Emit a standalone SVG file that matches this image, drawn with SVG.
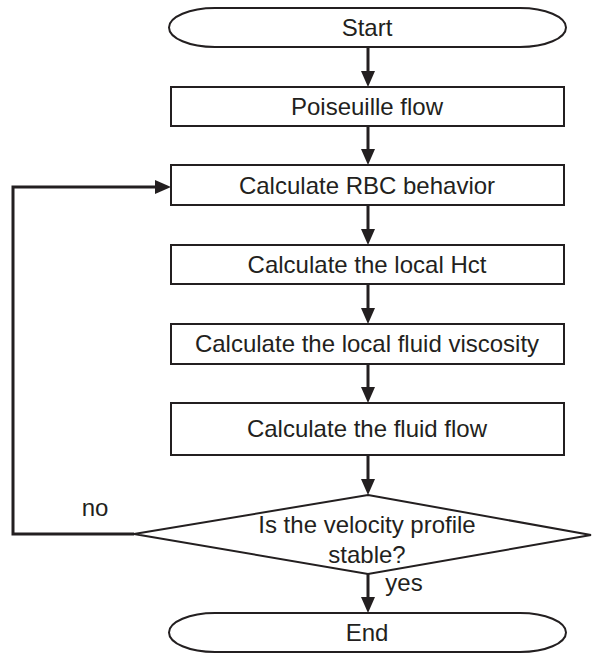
<svg xmlns="http://www.w3.org/2000/svg" width="592" height="653" viewBox="0 0 592 653">
<defs>
<style>
.shape{fill:#fff;stroke:#231f20;stroke-width:2}
.conn{fill:none;stroke:#231f20;stroke-width:3}
text{font-family:"Liberation Sans",Arial,sans-serif;font-size:24px;fill:#231f20;text-anchor:middle}
</style>
<marker id="ah" markerUnits="userSpaceOnUse" markerWidth="16" markerHeight="14" refX="8" refY="7" orient="auto">
<path d="M0,0 L16,7 L0,14 Z" fill="#231f20"/>
</marker>
</defs>
<rect width="592" height="653" fill="#fff"/>
<g id="connectors">
<line class="conn" x1="368" y1="47" x2="368" y2="79" marker-end="url(#ah)"/>
<line class="conn" x1="368" y1="126" x2="368" y2="157" marker-end="url(#ah)"/>
<line class="conn" x1="368" y1="205" x2="368" y2="237" marker-end="url(#ah)"/>
<line class="conn" x1="368" y1="284" x2="368" y2="316" marker-end="url(#ah)"/>
<line class="conn" x1="368" y1="364" x2="368" y2="395" marker-end="url(#ah)"/>
<line class="conn" x1="368" y1="455" x2="368" y2="487" marker-end="url(#ah)"/>
<line class="conn" x1="368" y1="574" x2="368" y2="605" marker-end="url(#ah)"/>
<path class="conn" d="M134,534 H13 V187 H163" marker-end="url(#ah)"/>
<text x="95" y="516">no</text>
<text x="404" y="591">yes</text>
</g>
<g id="start">
<path class="shape" d="M215,8 H520 A46,19.5 0 0 1 520,47 H215 A46,19.5 0 0 1 215,8 Z"/>
<text x="367" y="36">Start</text>
</g>
<g id="poiseuille">
<rect class="shape" x="171" y="87" width="393" height="39"/>
<text x="367" y="115">Poiseuille flow</text>
</g>
<g id="rbc">
<rect class="shape" x="171" y="165" width="393" height="40"/>
<text x="367" y="194">Calculate RBC behavior</text>
</g>
<g id="hct">
<rect class="shape" x="171" y="245" width="393" height="39"/>
<text x="367" y="273">Calculate the local Hct</text>
</g>
<g id="viscosity">
<rect class="shape" x="171" y="324" width="393" height="40"/>
<text x="367" y="352">Calculate the local fluid viscosity</text>
</g>
<g id="fluidflow">
<rect class="shape" x="171" y="403" width="393" height="52"/>
<text x="367" y="437">Calculate the fluid flow</text>
</g>
<g id="decision">
<polygon class="shape" stroke-width="1.8" points="368,495 591,535 368,574 134,534"/>
<text x="367" y="533">Is the velocity profile</text>
<text x="367" y="563">stable?</text>
</g>
<g id="end">
<path class="shape" d="M215,613 H520 A46,19.5 0 0 1 520,652 H215 A46,19.5 0 0 1 215,613 Z"/>
<text x="367" y="641">End</text>
</g>
</svg>
